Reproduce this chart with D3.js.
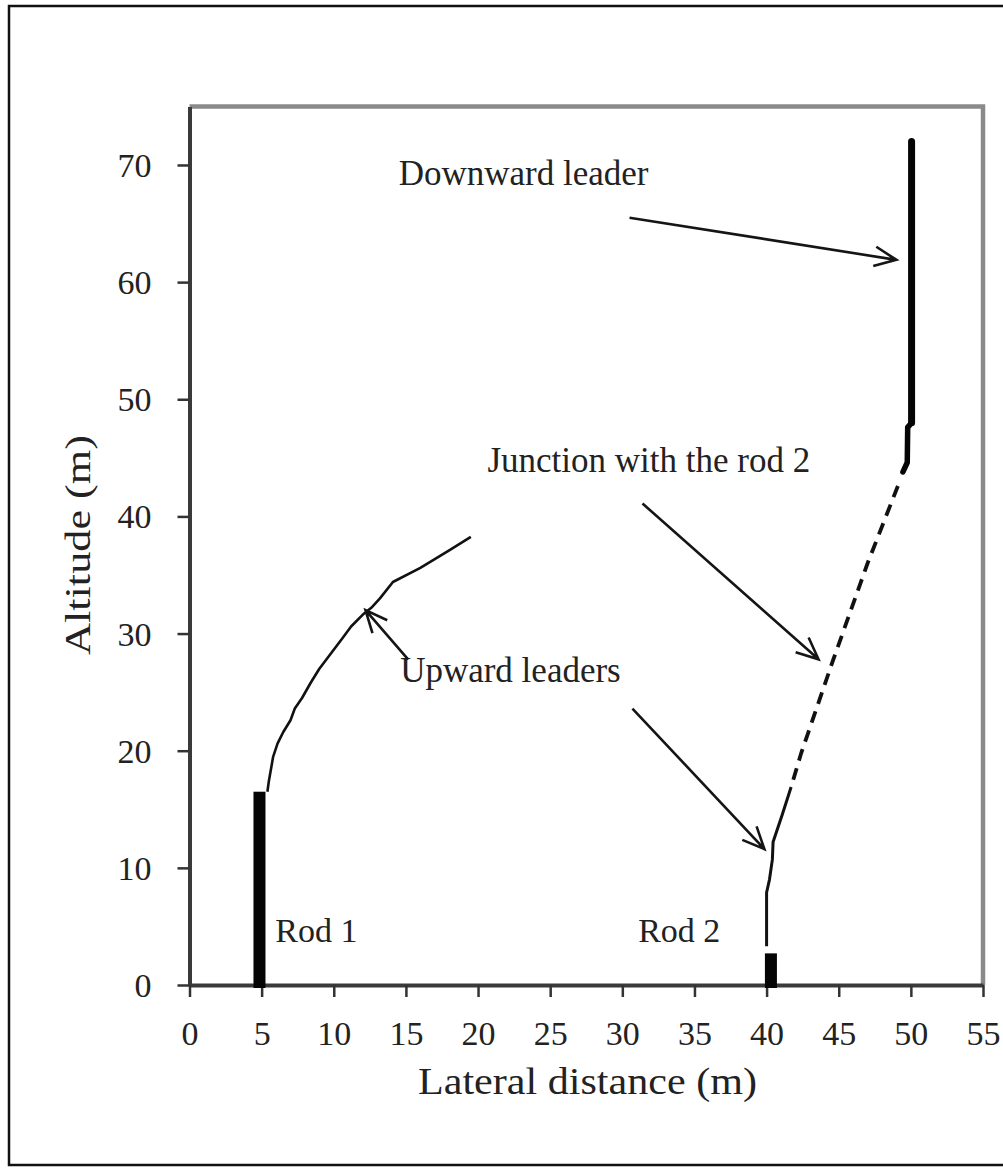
<!DOCTYPE html>
<html>
<head>
<meta charset="utf-8">
<script src="https://cdn.jsdelivr.net/npm/d3@7"></script>
<style>
  html, body { margin: 0; padding: 0; background: #fff; }
  svg { display: block; }
  text { font-family: "Liberation Serif", "Times New Roman", serif; fill: #222; }
</style>
</head>
<body>
<svg id="chart" width="1003" height="1169"></svg>
<script>
// Axis ticks
const xTicks = [0, 5, 10, 15, 20, 25, 30, 35, 40, 45, 50, 55];
const yTicks = [0, 10, 20, 30, 40, 50, 60, 70];

// Lightning rods: centre position and height (m)
const rods = [
  { name: "Rod 1", x: 4.85, height: 16.5, labelX: 5.95, labelY: 3.7 },
  { name: "Rod 2", x: 40.3, height: 2.7, labelX: 31.1, labelY: 3.7 }
];

// Downward leader, descending channel (m)
const downwardMain = [[50.05, 72.0], [50.05, 48.0]];
const downwardTip = [[50.05, 48.0], [49.78, 47.6], [49.75, 44.6], [49.45, 43.8]];
// Final jump from the downward leader tip towards rod 2
const junctionPath = [[49.1, 42.6], [47.0, 36.0], [44.6, 27.7], [42.4, 19.8], [41.7, 16.9]];
// Upward leader from rod 1
const upwardRod1 = [
  [5.4, 16.5], [5.5, 17.4], [5.8, 19.5], [6.1, 20.6], [6.5, 21.6], [7.0, 22.6],
  [7.3, 23.6], [7.8, 24.5], [8.4, 25.8], [9.0, 27.0], [9.8, 28.3], [10.6, 29.6],
  [11.2, 30.6], [12.0, 31.6], [12.6, 32.2], [13.2, 33.0], [14.1, 34.4],
  [16.0, 35.6], [18.0, 37.1], [19.5, 38.25]
];
// Upward leader from rod 2
const upwardRod2 = [[40.0, 3.3], [40.0, 7.9], [40.2, 9.0], [40.4, 10.7], [40.45, 12.2], [41.1, 14.6], [41.7, 16.9]];

// Annotations: text anchor (left, baseline) and arrows [from, to]
const notes = [
  { text: "Downward leader", at: [14.5, 68.3], arrows: [[[30.5, 65.5], [49.0, 61.9]]] },
  { text: "Junction with the rod 2", at: [20.65, 43.8], arrows: [[[31.4, 41.1], [43.6, 27.8]]] },
  { text: "Upward leaders", at: [14.6, 25.9], arrows: [[[15.15, 27.8], [12.2, 32.0]], [[30.7, 23.6], [39.85, 11.6]]] }
];

const svg = d3.select("#chart");

// Outer figure frame
svg.append("rect")
  .attr("x", 9).attr("y", 6)
  .attr("width", 1040).attr("height", 1159)
  .attr("fill", "none").attr("stroke", "#111").attr("stroke-width", 2.5);

const x = d3.scaleLinear().domain([0, 55]).range([189.5, 983]);
const y = d3.scaleLinear().domain([0, 75]).range([985, 106.4]);

// Plot frame (top and right sides)
svg.append("path")
  .attr("d", `M${x(0)},${y(75)}H${x(55)}V${y(0)}`)
  .attr("fill", "none").attr("stroke", "#8a8a8a").attr("stroke-width", 4.5);

// Axes
const yAxis = svg.append("g")
  .attr("transform", `translate(${x(0)},0)`)
  .call(d3.axisLeft(y).tickValues(yTicks).tickSize(12).tickSizeOuter(0).tickPadding(26));
const xAxis = svg.append("g")
  .attr("transform", `translate(0,${y(0)})`)
  .call(d3.axisBottom(x).tickValues(xTicks).tickSize(12).tickSizeOuter(0).tickPadding(24));

[yAxis, xAxis].forEach(g => {
  g.select(".domain").attr("stroke", "#3a3a3a").attr("stroke-width", 4);
  g.selectAll(".tick line").attr("stroke", "#333").attr("stroke-width", 2.5);
  g.selectAll(".tick text")
    .attr("fill", "#222")
    .style("font-family", '"Liberation Serif", serif')
    .style("font-size", "34px");
});
yAxis.selectAll(".tick text").attr("dy", "0.34em");
xAxis.selectAll(".tick text").attr("dy", "0.72em");

// Axis titles
svg.append("text")
  .attr("x", 418).attr("y", 1094)
  .attr("textLength", 339).attr("lengthAdjust", "spacingAndGlyphs")
  .style("font-size", "37px")
  .text("Lateral distance (m)");
svg.append("text")
  .attr("transform", "translate(90,655) rotate(-90)")
  .attr("textLength", 220).attr("lengthAdjust", "spacingAndGlyphs")
  .style("font-size", "36px")
  .text("Altitude (m)");

const line = d3.line().x(d => x(d[0])).y(d => y(d[1]));

// Rods
svg.selectAll("rect.rod").data(rods).join("rect")
  .attr("class", "rod")
  .attr("x", d => x(d.x) - 6)
  .attr("width", 12)
  .attr("y", d => y(d.height))
  .attr("height", d => y(0) - y(d.height) + 3)
  .attr("fill", "#050505");
svg.selectAll("text.rodlabel").data(rods).join("text")
  .attr("class", "rodlabel")
  .attr("x", d => x(d.labelX)).attr("y", d => y(d.labelY))
  .style("font-size", "34px")
  .text(d => d.name);

// Leaders
svg.append("path").datum(upwardRod1).attr("d", line)
  .attr("fill", "none").attr("stroke", "#111").attr("stroke-width", 2.6).attr("stroke-linejoin", "round");
svg.append("path").datum(upwardRod2).attr("d", line)
  .attr("fill", "none").attr("stroke", "#111").attr("stroke-width", 3).attr("stroke-linejoin", "round");
svg.append("path").datum(junctionPath).attr("d", line)
  .attr("fill", "none").attr("stroke", "#111").attr("stroke-width", 3.8)
  .attr("stroke-dasharray", "12,8");
svg.append("path").datum(downwardTip).attr("d", line)
  .attr("fill", "none").attr("stroke", "#050505").attr("stroke-width", 5.5)
  .attr("stroke-linejoin", "round").attr("stroke-linecap", "round");
svg.append("path").datum(downwardMain).attr("d", line)
  .attr("fill", "none").attr("stroke", "#050505").attr("stroke-width", 7)
  .attr("stroke-linecap", "round");

// Annotations with open arrowheads
function arrowPath(from, to) {
  const x0 = x(from[0]), y0 = y(from[1]), x1 = x(to[0]), y1 = y(to[1]);
  const a = Math.atan2(y1 - y0, x1 - x0);
  const len = 24, spread = 0.42;
  const hx1 = x1 - len * Math.cos(a - spread), hy1 = y1 - len * Math.sin(a - spread);
  const hx2 = x1 - len * Math.cos(a + spread), hy2 = y1 - len * Math.sin(a + spread);
  return `M${x0},${y0}L${x1},${y1}M${hx1},${hy1}L${x1},${y1}L${hx2},${hy2}`;
}

const noteG = svg.append("g");
notes.forEach(n => {
  noteG.append("text")
    .attr("x", x(n.at[0])).attr("y", y(n.at[1]))
    .style("font-size", "35px")
    .text(n.text);
  n.arrows.forEach(([from, to]) => {
    noteG.append("path")
      .attr("d", arrowPath(from, to))
      .attr("fill", "none").attr("stroke", "#151515").attr("stroke-width", 2.6)
      .attr("stroke-linejoin", "miter");
  });
});
</script>
</body>
</html>
